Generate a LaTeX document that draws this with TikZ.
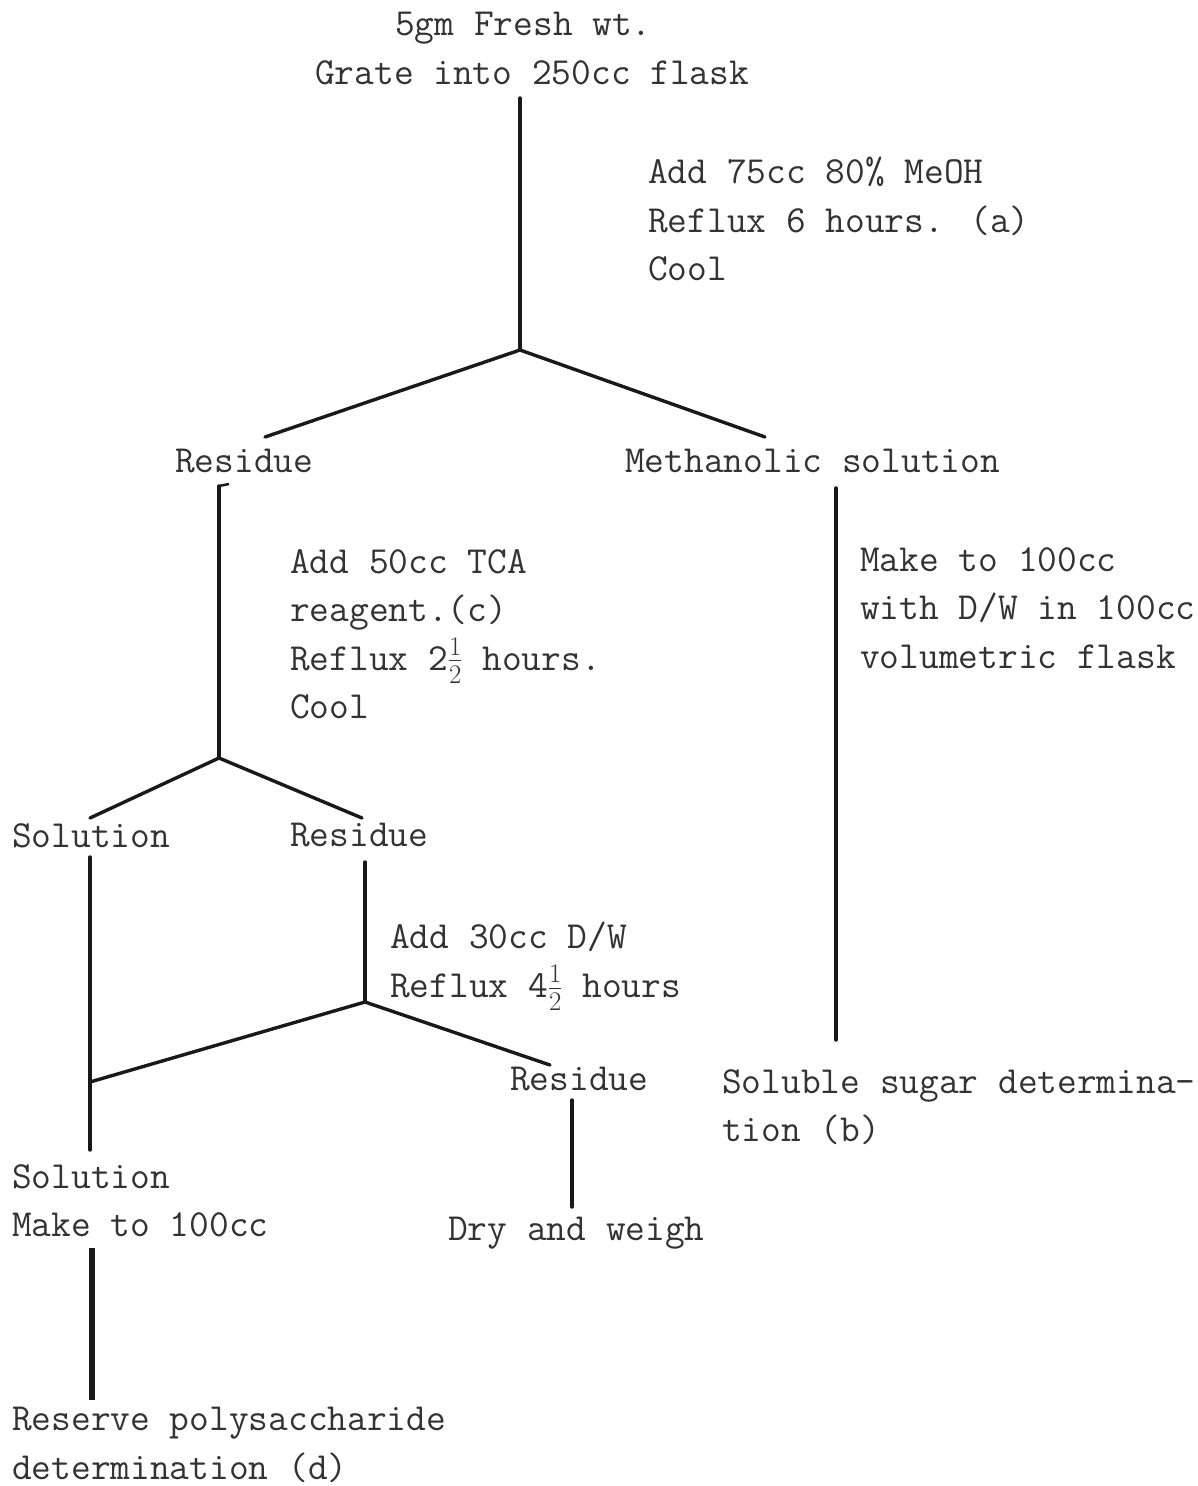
\RequirePackage{fix-cm}
\documentclass[tikz,border=0pt]{standalone}
\usepackage{fontspec}
\begin{document}
\begin{tikzpicture}[x=1pt,y=-1pt,
  lbl/.style={anchor=north west,inner sep=0pt,align=left,text=black!80,
    font=\fontsize{38.3}{48.5}\selectfont\ttfamily},
  ln/.style={line width=3.4pt,draw=black!90,line cap=round}]
\useasboundingbox[fill=white] (0,0) rectangle (1198,1486);
% texts
\node[lbl] (t1) at (395,12) {5gm Fresh wt.};
\node[lbl] (t2) at (315,60) {Grate into 250cc flask};
\node[lbl] (s1) at (648,157) {Add 75cc 80\% MeOH\\Reflux 6 hours. (a)\\Cool};
\node[lbl] (res1) at (175,449) {Residue};
\node[lbl] (meth) at (625,449) {Methanolic solution};
\node[lbl] (s2) at (290,549) {Add 50cc TCA\\reagent.(c)\\Reflux 2$\frac{1}{2}$ hours.\\Cool};
\node[lbl] (s3) at (860,547) {Make to 100cc\\with D/W in 100cc\\volumetric flask};
\node[lbl] (sol1) at (12,823) {Solution};
\node[lbl] (res2) at (290,823) {Residue};
\node[lbl] (s4) at (390,922) {Add 30cc D/W\\Reflux 4$\frac{1}{2}$ hours};
\node[lbl] (res3) at (510,1067) {Residue};
\node[lbl] (sug) at (722,1069) {Soluble sugar determina-\\tion (b)};
\node[lbl] (sol2) at (12,1164) {Solution\\Make to 100cc};
\node[lbl] (dry) at (448,1217) {Dry and weigh};
\node[lbl] (resv) at (12,1407) {Reserve polysaccharide\\determination (d)};
% junction points
\coordinate (a0) at (520,98);
\coordinate (a1) at (520,350);
\coordinate (a2) at (265,437);
\coordinate (a3) at (765,437);
\coordinate (b0) at (219,486);
\coordinate (b1) at (219,758);
\coordinate (b2) at (90,818);
\coordinate (b3) at (362,818);
\coordinate (c0) at (836,488);
\coordinate (c1) at (836,1040);
\coordinate (d0) at (90,857);
\coordinate (d1) at (90,1150);
\coordinate (d2) at (90,1082);
\coordinate (e0) at (365,862);
\coordinate (e1) at (365,1002);
\coordinate (e2) at (550,1065);
\coordinate (f0) at (572,1100);
\coordinate (f1) at (572,1207);
\coordinate (g0) at (92,1248);
\coordinate (g1) at (92,1400);
% lines
\draw[ln] (a0) -- (a1);
\draw[ln] (a1) -- (a2);
\draw[ln] (a1) -- (a3);
\draw[ln] (b0) -- (b1);
\draw[line width=2.5pt,draw=black!90] (b0) -- ++(10,-2);
\draw[ln] (b1) -- (b2);
\draw[ln] (b1) -- (b3);
\draw[ln] (c0) -- (c1);
\draw[ln] (d0) -- (d1);
\draw[ln] (e0) -- (e1);
\draw[ln] (e1) -- (d2);
\draw[ln] (e1) -- (e2);
\draw[ln] (f0) -- (f1);
\draw[line width=5.5pt,draw=black!90] (g0) -- (g1);
\end{tikzpicture}
\end{document}
